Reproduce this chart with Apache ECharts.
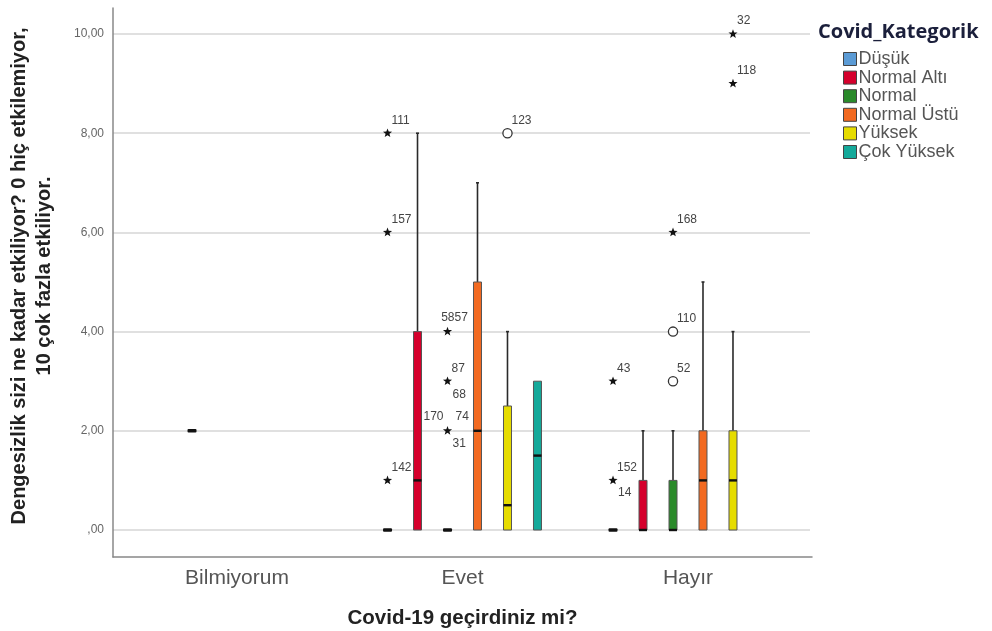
<!DOCTYPE html>
<html><head><meta charset="utf-8">
<script src="https://cdn.jsdelivr.net/npm/echarts@6/dist/echarts.min.js"></script>
<style>html,body{margin:0;padding:0;background:#fff}#chart{width:992px;height:631px}</style>
</head><body><div id="chart"></div>
<script>
// ---------------- DATA ----------------
const groups = ['Bilmiyorum', 'Evet', 'Hayır'];
const kategoriler = ['Düşük', 'Normal Altı', 'Normal', 'Normal Üstü', 'Yüksek', 'Çok Yüksek'];
const yTicks = [0, 2, 4, 6, 8, 10];

// box stats: [group index, lower whisker, Q1, median, Q3, upper whisker]
const dusukBoxes      = [[1, 0, 0, 0, 0, 0], [2, 0, 0, 0, 0, 0]];
const normalAltiBoxes = [[0, 2, 2, 2, 2, 2], [1, 0, 0, 1, 4, 8], [2, 0, 0, 0, 1, 2]];
const normalBoxes     = [[1, 0, 0, 0, 0, 0], [2, 0, 0, 0, 1, 2]];
const normalUstuBoxes = [[1, 0, 0, 2, 5, 7], [2, 0, 0, 1, 2, 5]];
const yuksekBoxes     = [[1, 0, 0, 0.5, 2.5, 4], [2, 0, 0, 1, 2, 4]];
const cokYuksekBoxes  = [[1, 0, 0, 1.5, 3, 3]];

// outliers: [group index, value, kind ('extreme' = star, 'outlier' = circle), case ids]
const dusukOutliers      = [[1, 8, 'extreme', ['111']], [1, 6, 'extreme', ['157']], [1, 1, 'extreme', ['142']],
                            [2, 3, 'extreme', ['43']], [2, 1, 'extreme', ['152', '14']]];
const normalAltiOutliers = [];
const normalOutliers     = [[1, 4, 'extreme', ['58', '57']], [1, 3, 'extreme', ['87', '68']], [1, 2, 'extreme', ['170', '74', '31']],
                            [2, 6, 'extreme', ['168']], [2, 4, 'outlier', ['110']], [2, 3, 'outlier', ['52']]];
const normalUstuOutliers = [];
const yuksekOutliers     = [[1, 8, 'outlier', ['123']], [2, 10, 'extreme', ['32']], [2, 9, 'extreme', ['118']]];
const cokYuksekOutliers  = [];

// ---------------- STYLE ----------------
const colors = ['#5b9bd5', '#d5002c', '#2a8a2a', '#f26a21', '#e6dc00', '#14a99a'];
const allBoxes = [dusukBoxes, normalAltiBoxes, normalBoxes, normalUstuBoxes, yuksekBoxes, cokYuksekBoxes];
const allOutliers = [dusukOutliers, normalAltiOutliers, normalOutliers, normalUstuOutliers, yuksekOutliers, cokYuksekOutliers];
const SLOT_FRAC = 0.133;   // slot spacing as a fraction of the category band
const BOX_W = 8;
const FONT = 'Arial, "Liberation Sans", sans-serif';
// label placement for case ids: [dx, dy, align]
const labelPlace = {
  '58': [7, -14, 'right'], '57': [7, -14, 'left'],
  '170': [-4, -14, 'right'], '74': [8, -14, 'left'], '31': [5, 13, 'left'],
  '68': [5, 13, 'left'], '14': [5, 12, 'left']
};
const defaultPlace = [4, -13, 'left'];

function slotX(api, g, slot) {
  const c = api.coord([g, 0]);
  const band = api.size([1, 0])[0];
  return c[0] + (slot - 2.5) * band * SLOT_FRAC;
}

function boxSeries(k) {
  return {
    name: kategoriler[k],
    type: 'custom',
    xAxisIndex: 2, yAxisIndex: 2,
    itemStyle: { color: colors[k], borderColor: '#444', borderWidth: 1 },
    data: allBoxes[k],
    renderItem: function (params, api) {
      const g = api.value(0);
      const lo = api.value(1), q1 = api.value(2), med = api.value(3), q3 = api.value(4), hi = api.value(5);
      const x = slotX(api, g, k);
      const Y = v => api.coord([g, v])[1];
      const children = [];
      const wStyle = { stroke: '#2a2a2a', lineWidth: 1.6 };
      if (hi > q3) {
        children.push({ type: 'line', shape: { x1: x, y1: Y(q3), x2: x, y2: Y(hi) }, style: wStyle });
        children.push({ type: 'line', shape: { x1: x - 1.5, y1: Y(hi), x2: x + 1.5, y2: Y(hi) }, style: wStyle });
      }
      if (lo < q1) {
        children.push({ type: 'line', shape: { x1: x, y1: Y(q1), x2: x, y2: Y(lo) }, style: wStyle });
        children.push({ type: 'line', shape: { x1: x - 1.5, y1: Y(lo), x2: x + 1.5, y2: Y(lo) }, style: wStyle });
      }
      if (q3 > q1) {
        children.push({ type: 'rect', shape: { x: x - BOX_W / 2, y: Y(q3), width: BOX_W, height: Y(q1) - Y(q3) },
          style: { fill: colors[k], stroke: '#555', lineWidth: 1 } });
        children.push({ type: 'line', shape: { x1: x - BOX_W / 2, y1: Y(med), x2: x + BOX_W / 2, y2: Y(med) },
          style: { stroke: '#111', lineWidth: 2.4 } });
      } else {
        children.push({ type: 'rect', shape: { x: x - 4.5, y: Y(med) - 1.8, width: 9, height: 3.6, r: 1 },
          style: { fill: '#111' } });
      }
      return { type: 'group', children: children };
    }
  };
}

function starPoints(cx, cy, R, r) {
  const pts = [];
  for (let i = 0; i < 10; i++) {
    const a = -Math.PI / 2 + i * Math.PI / 5;
    const rad = i % 2 === 0 ? R : r;
    pts.push([cx + rad * Math.cos(a), cy + rad * Math.sin(a)]);
  }
  return pts;
}

const outlierList = [];
allOutliers.forEach((arr, k) => arr.forEach(o => outlierList.push({ k: k, g: o[0], v: o[1], kind: o[2], ids: o[3] })));

const outlierSeries = {
  name: 'outliers',
  type: 'custom',
  xAxisIndex: 2, yAxisIndex: 2,
  clip: false,
  data: outlierList.map(o => [o.g, o.v]),
  renderItem: function (params, api) {
    const o = outlierList[params.dataIndex];
    const x = slotX(api, o.g, o.k);
    const y = api.coord([o.g, o.v])[1];
    const children = [];
    if (o.kind === 'extreme') {
      children.push({ type: 'polygon', shape: { points: starPoints(x, y, 4.8, 2.0) }, style: { fill: '#111' } });
    } else {
      children.push({ type: 'circle', shape: { cx: x, cy: y, r: 4.6 }, style: { fill: '#fff', stroke: '#333', lineWidth: 1.3 } });
    }
    o.ids.forEach(id => {
      const p = labelPlace[id] || defaultPlace;
      children.push({ type: 'text', x: x + p[0], y: y + p[1],
        style: { text: id, fill: '#444', font: '12px ' + FONT, align: p[2], verticalAlign: 'middle' } });
    });
    return { type: 'group', children: children };
  }
};

const chart = echarts.init(document.getElementById('chart'));
chart.setOption({
  backgroundColor: '#fff',
  animation: false,
  title: {
    text: 'Covid_Kategorik', left: 813, top: 17,
    textStyle: { fontFamily: '"Open Sans", sans-serif', fontWeight: 'bold', fontSize: 20, color: '#1b1f3b' }
  },
  legend: {
    orient: 'vertical', left: 838, top: 45,
    itemWidth: 13, itemHeight: 13, itemGap: 0.6,
    icon: 'rect',
    data: kategoriler.map(n => ({ name: n, itemStyle: { borderColor: '#444', borderWidth: 1 } })),
    textStyle: { fontFamily: FONT, fontSize: 18, color: '#555', padding: [0, 0, 0, -3] },
    selectedMode: false
  },
  grid: [
    { left: 113, right: 180, top: 8, bottom: 74, outerBoundsMode: 'none' },
    { left: 113, right: 182, top: 34, bottom: 101, outerBoundsMode: 'none' },
    { left: 124.25, right: 191.25, top: 34, bottom: 101, outerBoundsMode: 'none' }
  ],
  xAxis: [
    { gridIndex: 0, type: 'value', min: 0, max: 1, axisLine: { show: true, lineStyle: { color: '#888', width: 1.5 } },
      axisTick: { show: false }, axisLabel: { show: false }, splitLine: { show: false } },
    { gridIndex: 1, type: 'value', min: 0, max: 1, show: false },
    { gridIndex: 2, type: 'category', data: groups,
      axisLine: { show: false }, axisTick: { show: false },
      axisLabel: { fontFamily: FONT, fontSize: 21, color: '#555', margin: 38 },
      name: 'Covid-19 geçirdiniz mi?', nameLocation: 'middle', nameGap: 78,
      nameTextStyle: { fontFamily: FONT, fontSize: 20.5, fontWeight: 'bold', color: '#222' } }
  ],
  yAxis: [
    { gridIndex: 0, type: 'value', min: 0, max: 1, axisLine: { show: true, lineStyle: { color: '#888', width: 1.5 } },
      axisTick: { show: false }, axisLabel: { show: false }, splitLine: { show: false } },
    { gridIndex: 1, type: 'value', min: yTicks[0], max: yTicks[yTicks.length - 1], interval: 2,
      axisLine: { show: false }, axisTick: { show: false },
      splitLine: { show: true, lineStyle: { color: '#d6d6d6', width: 1.6 } },
      axisLabel: { fontFamily: FONT, fontSize: 12, color: '#666', margin: 9,
        formatter: v => v === 0 ? ',00' : v.toFixed(2).replace('.', ',') },
      name: 'Dengesizlik sizi ne kadar etkiliyor? 0 hiç etkilemiyor,\n10 çok fazla etkiliyor.',
      nameLocation: 'middle', nameRotate: 90, nameGap: 56,
      nameTextStyle: { fontFamily: FONT, fontSize: 20, fontWeight: 'bold', color: '#222', lineHeight: 25,
        align: 'center', padding: [0, 0, 0, 12] } },
    { gridIndex: 2, type: 'value', min: 0, max: 10, show: false }
  ],
  series: kategoriler.map((n, k) => boxSeries(k)).concat([outlierSeries])
});
</script></body></html>
